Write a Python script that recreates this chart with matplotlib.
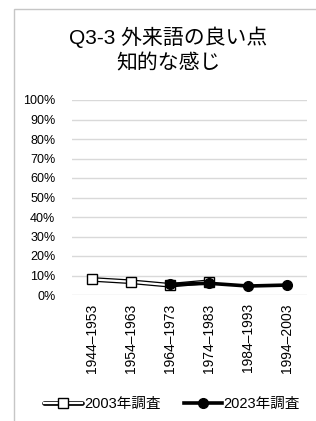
import matplotlib
matplotlib.use("Agg")
import matplotlib.pyplot as plt
from matplotlib.patches import Rectangle
from matplotlib.legend_handler import HandlerTuple

plt.rcParams["font.family"] = ["Liberation Sans", "Noto Sans CJK JP", "DejaVu Sans"]

# data (percent)
cohorts = ["1944–1953", "1954–1963", "1964–1973", "1974–1983", "1984–1993", "1994–2003"]
survey_2003 = [8.0, 6.8, 5.0, 6.8]          # only the first four cohorts
survey_2023 = [None, None, 5.4, 6.0, 4.6, 5.1]
yticks = list(range(0, 101, 10))

W, H = 316, 421
fig = plt.figure(figsize=(W / 100, H / 100), dpi=100)

# chart border (cropped on the right and bottom in the reference)
fig.patches.append(Rectangle((13.5 / W, -0.05), 1.2, 1 - 8.5 / H + 0.05,
                             transform=fig.transFigure, fill=False,
                             edgecolor="#c6c6c6", linewidth=1.0))

ax = fig.add_axes([72 / W, 126 / H, 235 / W, 195 / H])

x_all = list(range(len(cohorts)))
x03 = x_all[:len(survey_2003)]
x23 = [i for i, v in zip(x_all, survey_2023) if v is not None]
y23 = [v for v in survey_2023 if v is not None]

# 2003: white line with dark outline, open squares
edge03, = ax.plot(x03, survey_2003, color="black", linewidth=3.4, zorder=3,
                  solid_capstyle="round")
line03, = ax.plot(x03, survey_2003, color="white", linewidth=1.6, marker="s",
                  markersize=7, markerfacecolor="white", markeredgecolor="black",
                  markeredgewidth=1.0, zorder=3.1)
line23, = ax.plot(x23, y23, color="black", linewidth=2.6, marker="o",
                  markersize=7, markerfacecolor="black", markeredgecolor="black",
                  zorder=4)

ax.set_xlim(-0.5, len(cohorts) - 0.5)
ax.set_ylim(0, 100)
ax.set_yticks(yticks)
ax.set_yticklabels([f"{t}%" for t in yticks], fontsize=9)
ax.set_xticks(x_all)
ax.set_xticklabels(cohorts, rotation=90, fontsize=10)
ax.tick_params(axis="both", length=0)
ax.tick_params(axis="x", pad=6)
ax.tick_params(axis="y", pad=12)
ax.grid(axis="y", color="#d9d9d9", linewidth=1.0)
ax.set_axisbelow(True)
for s in ax.spines.values():
    s.set_visible(False)

fig.text(168 / W, 1 - 37 / H, "Q3-3 外来語の良い点", ha="center", va="center", fontsize=15)
fig.text(168 / W, 1 - 64 / H, "知的な感じ", ha="center", va="center", fontsize=15)

fig.legend([(edge03, line03), line23], ["2003年調査", "2023年調査"],
           handler_map={tuple: HandlerTuple(ndivide=1)},
           loc="center", bbox_to_anchor=(172 / W, 1 - 404 / H), ncol=2,
           frameon=False, fontsize=10.5, handlelength=2.6, handletextpad=0.1,
           columnspacing=1.6)

fig.savefig("out.png", dpi=100)
